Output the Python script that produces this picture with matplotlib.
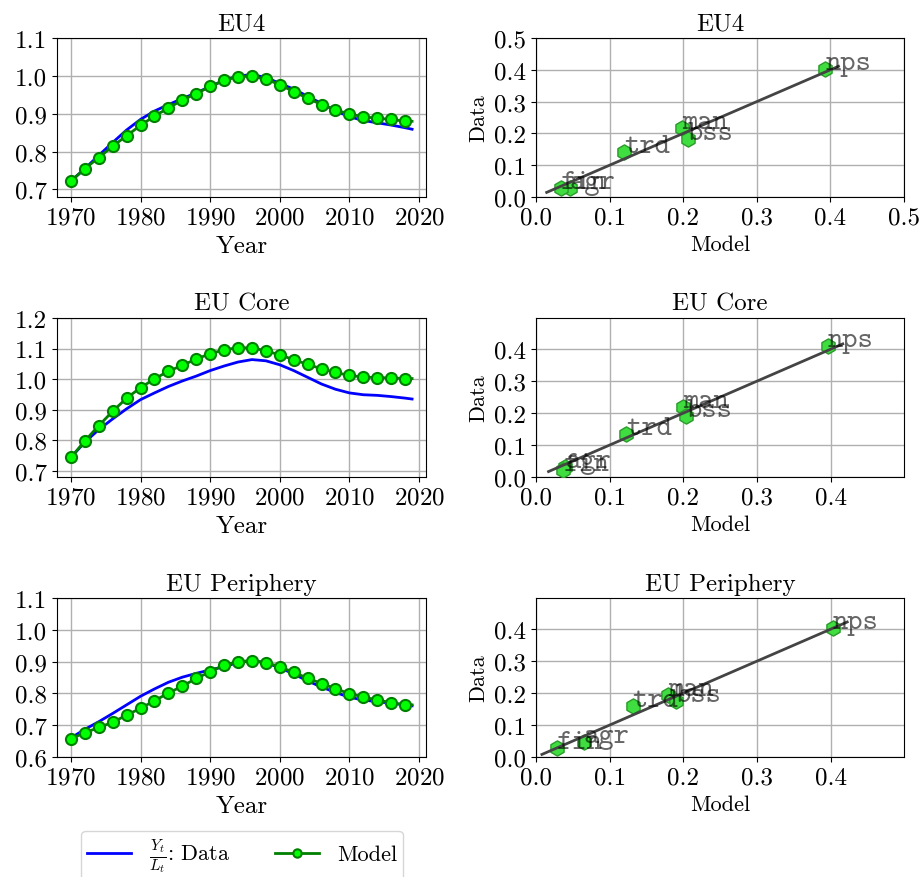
import matplotlib
matplotlib.use("Agg")
import matplotlib.pyplot as plt
import numpy as np

plt.rcParams['font.family'] = ['cmr10', 'DejaVu Serif']
plt.rcParams['mathtext.fontset'] = 'cm'
plt.rcParams['axes.formatter.use_mathtext'] = True
plt.rcParams['font.size'] = 18

# ---------------- data ----------------
years_data = [1970, 1972, 1974, 1976, 1978, 1980, 1982, 1984, 1986, 1988, 1990,
              1992, 1994, 1996, 1998, 2000, 2002, 2004, 2006, 2008, 2010, 2012,
              2014, 2016, 2018, 2019]
years_model = [1970, 1972, 1974, 1976, 1978, 1980, 1982, 1984, 1986, 1988, 1990,
               1992, 1994, 1996, 1998, 2000, 2002, 2004, 2006, 2008, 2010, 2012,
               2014, 2016, 2018]

regions = ["EU4", "EU Core", "EU Periphery"]

eu4_data = [0.722, 0.755, 0.790, 0.824, 0.857, 0.885, 0.907, 0.924, 0.940, 0.955,
            0.972, 0.988, 1.000, 1.003, 0.996, 0.980, 0.965, 0.946, 0.927, 0.908,
            0.892, 0.882, 0.876, 0.870, 0.863, 0.859]
eu4_model = [0.722, 0.755, 0.784, 0.814, 0.842, 0.869, 0.894, 0.915, 0.936, 0.953,
             0.972, 0.988, 0.998, 0.999, 0.991, 0.977, 0.958, 0.941, 0.924, 0.910,
             0.899, 0.892, 0.888, 0.885, 0.880]

core_data = [0.744, 0.794, 0.835, 0.870, 0.903, 0.933, 0.955, 0.976, 0.994, 1.010,
             1.028, 1.043, 1.056, 1.064, 1.060, 1.047, 1.028, 1.006, 0.984, 0.967,
             0.955, 0.949, 0.947, 0.943, 0.938, 0.935]
core_model = [0.744, 0.798, 0.848, 0.895, 0.938, 0.972, 1.001, 1.026, 1.045, 1.066,
              1.083, 1.096, 1.103, 1.102, 1.093, 1.079, 1.064, 1.048, 1.034, 1.022,
              1.012, 1.007, 1.005, 1.004, 1.002]

peri_data = [0.660, 0.687, 0.711, 0.737, 0.764, 0.791, 0.814, 0.835, 0.851, 0.863,
             0.874, 0.884, 0.897, 0.903, 0.896, 0.881, 0.861, 0.839, 0.820, 0.803,
             0.788, 0.779, 0.774, 0.769, 0.764, 0.761]
peri_model = [0.658, 0.676, 0.693, 0.709, 0.732, 0.753, 0.777, 0.801, 0.823, 0.847,
              0.868, 0.889, 0.900, 0.903, 0.897, 0.884, 0.866, 0.848, 0.831, 0.815,
              0.799, 0.789, 0.779, 0.771, 0.764]

sectors = ["agr", "fin", "man", "bss", "trd", "nps"]

eu4_share_model = [0.046, 0.034, 0.198, 0.206, 0.120, 0.393]
eu4_share_data = [0.027, 0.027, 0.216, 0.183, 0.142, 0.401]
core_share_model = [0.040, 0.037, 0.200, 0.204, 0.122, 0.396]
core_share_data = [0.030, 0.022, 0.218, 0.190, 0.134, 0.408]
peri_share_model = [0.065, 0.028, 0.179, 0.190, 0.131, 0.403]
peri_share_data = [0.047, 0.027, 0.194, 0.176, 0.160, 0.404]

diag_lo = [0.0145, 0.017, 0.008]
diag_hi = [0.411, 0.416, 0.422]

ts_data = [eu4_data, core_data, peri_data]
ts_model = [eu4_model, core_model, peri_model]
sh_model = [eu4_share_model, core_share_model, peri_share_model]
sh_data = [eu4_share_data, core_share_data, peri_share_data]

ylims_ts = [(0.68, 1.1), (0.68, 1.2), (0.6, 1.1)]
yticks_ts = [[0.7, 0.8, 0.9, 1.0, 1.1], [0.7, 0.8, 0.9, 1.0, 1.1, 1.2],
             [0.6, 0.7, 0.8, 0.9, 1.0, 1.1]]
sc_lims = [(0.5, 0.5), (0.499, 0.497), (0.499, 0.497)]
sc_ticks = [[0.0, 0.1, 0.2, 0.3, 0.4, 0.5], [0.0, 0.1, 0.2, 0.3, 0.4],
            [0.0, 0.1, 0.2, 0.3, 0.4]]

# ---------------- figure ----------------
W, H = 920, 878
fig = plt.figure(figsize=(W / 100, H / 100), dpi=100)

row_bottoms = [198, 478, 758]
row_h = 159
left_x, left_w = 57, 369
right_x, right_w = 536, 368

handles = None
for i in range(3):
    b = 1 - row_bottoms[i] / H
    axl = fig.add_axes([left_x / W, b, left_w / W, row_h / H])
    axr = fig.add_axes([right_x / W, b, right_w / W, row_h / H])

    # time series
    h1, = axl.plot(years_data, ts_data[i], color='blue', lw=2, zorder=3)
    h2, = axl.plot(years_model + [years_data[-1]], ts_model[i] + [ts_model[i][-1]],
                   color='green', lw=2, marker='o', ms=8,
                   mfc='lime', mec='green', mew=1.5,
                   markevery=list(range(len(years_model))), zorder=4)
    if handles is None:
        handles = (h1, h2)
    axl.set_xlim(1968, 2021)
    axl.set_ylim(*ylims_ts[i])
    axl.set_xticks([1970, 1980, 1990, 2000, 2010, 2020])
    axl.set_yticks(yticks_ts[i])
    axl.yaxis.set_major_formatter(matplotlib.ticker.FormatStrFormatter('%.1f'))
    axl.grid(True, color='#b0b0b0', lw=1)
    axl.set_axisbelow(True)
    axl.tick_params(labelsize=18)
    axl.set_title(regions[i], fontsize=18)
    axl.set_xlabel('Year', fontsize=18)

    # scatter
    axr.scatter(sh_model[i], sh_data[i], marker='h', s=120, color='#3fdd3f',
                edgecolors='#2a9a2a', linewidths=1, zorder=3)
    axr.plot([diag_lo[i], diag_hi[i]], [diag_lo[i], diag_hi[i]],
             color='#444444', lw=2, zorder=4)
    for s, xm, yd in zip(sectors, sh_model[i], sh_data[i]):
        axr.text(xm, yd, s, family='cmtt10', fontsize=21, color='black',
                 alpha=0.6, zorder=5)
    axr.set_xlim(0, sc_lims[i][0])
    axr.set_ylim(0, sc_lims[i][1])
    axr.set_xticks(sc_ticks[i])
    axr.set_yticks(sc_ticks[i])
    axr.xaxis.set_major_formatter(matplotlib.ticker.FormatStrFormatter('%.1f'))
    axr.yaxis.set_major_formatter(matplotlib.ticker.FormatStrFormatter('%.1f'))
    axr.grid(True, color='#b0b0b0', lw=1)
    axr.set_axisbelow(True)
    axr.tick_params(labelsize=18)
    axr.set_title(regions[i], fontsize=18)
    axr.set_xlabel('Model', fontsize=16)
    axr.set_ylabel('Data', fontsize=16)

leg = fig.legend(handles, [r'$\frac{Y_t}{L_t}$: Data', 'Model'], ncol=2,
                 loc='upper center', bbox_to_anchor=(242 / W, 1 - 832 / H),
                 borderaxespad=0, borderpad=0.25,
                 fontsize=16, markerscale=0.75, framealpha=0.8, edgecolor='#cccccc')

fig.savefig('out.png', dpi=100)
